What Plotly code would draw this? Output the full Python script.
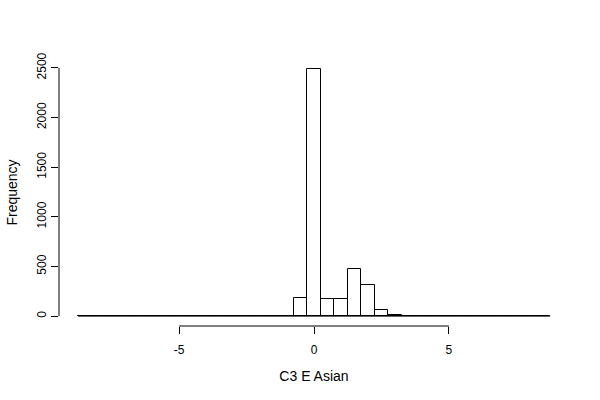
import plotly.graph_objects as go

# Histogram bins (width 0.5) and counts
bin_centers = [-8.5 + 0.5 * i for i in range(35)]
bin_width = 0.5
nonzero = {-1.0: 6, -0.5: 178, 0.0: 2490, 0.5: 175, 1.0: 168,
           1.5: 477, 2.0: 309, 2.5: 60, 3.0: 8}
counts = [nonzero.get(c, 0) for c in bin_centers]

x_ticks = [-5, 0, 5]
x_tick_labels = ["-5", "0", "5"]
y_ticks = [0, 500, 1000, 1500, 2000, 2500]
x_title = "C3 E Asian"
y_title = "Frequency"

lo = bin_centers[0] - bin_width / 2
hi = bin_centers[-1] + bin_width / 2
xr = hi - lo
ymax = max(counts)

font = dict(family="Liberation Sans, Arial, sans-serif", size=12, color="black")

fig = go.Figure()
# baseline of empty bins (R draws zero-height rectangles)
fig.add_trace(go.Scatter(x=[lo, hi], y=[0, 0], mode="lines",
                         line=dict(color="black", width=1), hoverinfo="skip",
                         showlegend=False))
fig.add_trace(go.Bar(x=bin_centers, y=counts, width=bin_width,
                     marker=dict(color="white", line=dict(color="black", width=1)),
                     showlegend=False))

fig.update_layout(
    width=600, height=400,
    margin=dict(l=59, r=31, t=59, b=74),
    plot_bgcolor="white", paper_bgcolor="white",
    font=font, bargap=0,
    xaxis=dict(range=[lo - 0.04 * xr, hi + 0.04 * xr], tickvals=x_ticks,
               ticktext=x_tick_labels,
               ticks="outside", ticklen=7, tickcolor="black", tickwidth=1,
               ticklabelstandoff=6,
               showgrid=False, zeroline=False, showline=False,
               title=dict(text=x_title, standoff=14), tickfont=font),
    yaxis=dict(range=[-0.04 * ymax, 1.04 * ymax], tickvals=y_ticks,
               ticks="outside", ticklen=7, tickcolor="black", tickwidth=1,
               tickangle=-90, showgrid=False, zeroline=False, showline=False,
               title=dict(text=y_title, standoff=14), tickfont=font),
    shapes=[
        dict(type="line", xref="x", yref="paper", x0=x_ticks[0], x1=x_ticks[-1],
             y0=0, y1=0, line=dict(color="black", width=1)),
        dict(type="line", xref="paper", yref="y", x0=0, x1=0,
             y0=y_ticks[0], y1=y_ticks[-1], line=dict(color="black", width=1)),
    ],
)

fig.write_html("out.html")
